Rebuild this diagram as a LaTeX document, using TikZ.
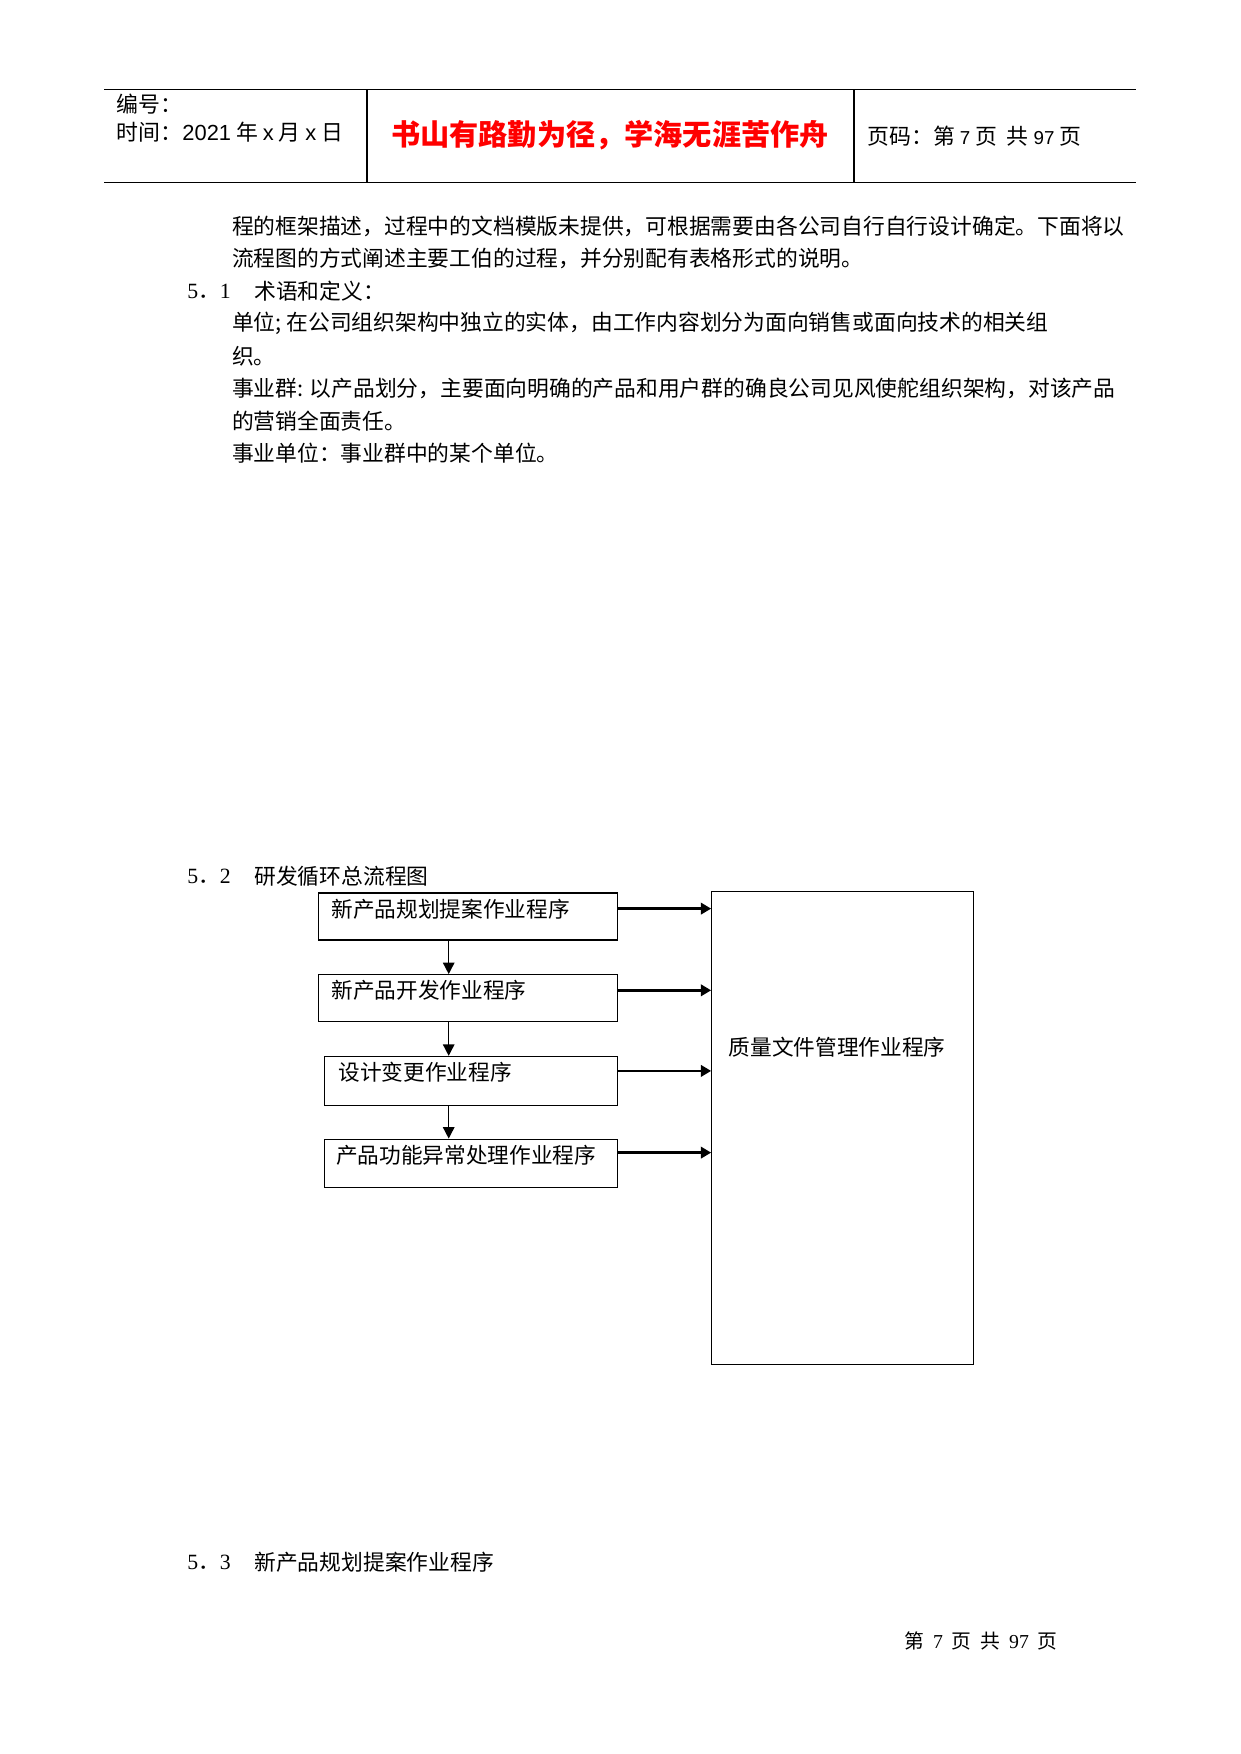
\documentclass[tikz,border=0pt]{standalone}
\usepackage{fontspec}
\setmainfont{Noto Sans CJK SC}
\newfontfamily\lsans{Liberation Sans}
\newfontfamily\lserif{Liberation Serif}
\usetikzlibrary{arrows.meta}
\begin{document}
\begin{tikzpicture}[x=0.48pt,y=-0.48pt,
  txt/.style={inner sep=0pt,anchor=west,font=\fontsize{10.45}{13}\selectfont},
  boxtxt/.style={inner sep=0pt,anchor=west,font=\fontsize{10.4}{12}\selectfont},
  hdr/.style={inner sep=0pt,anchor=west,font=\fontsize{10.5}{12}\selectfont},
  pbox/.style={draw,line width=0.5pt,inner sep=0pt},
  rarrow/.style={line width=1.3pt,-{Triangle[length=5pt,width=5.5pt]}},
  darrow/.style={line width=0.7pt,-{Triangle[length=5.5pt,width=5.5pt]}}]
\useasboundingbox (0,0) rectangle (1241,1754);
% header
\coordinate (hl) at (104,89.5);
\coordinate (hr) at (1136,182.4);
\draw[line width=0.5pt] (hl) -- (hl -| hr);
\draw[line width=0.5pt] (hl |- hr) -- (hr);
\draw[line width=0.5pt] (367,89.5) -- (367,182.4);
\draw[line width=0.5pt] (854,89.5) -- (854,182.4);
\node[hdr] (h1) at (116.4,104) {编号：};
\node[hdr] (h2) at (116.4,132) {时间：{\lsans 2021}\ 年\ {\lsans x}\ 月\ {\lsans x}\ 日};
\node[inner sep=0pt,text=red,font=\fontsize{14}{16}\selectfont\bfseries] (title) at (610,135.4) {书山有路勤为径，学海无涯苦作舟};
\node[hdr] (h3) at (867,136.5) {页码：第\ {\lsans\small 7}\ 页\ \ 共\ {\lsans\small 97}\ 页};
% body text
\node[txt] (p1) at (231.6,226) {程的框架描述，过程中的文档模版未提供，可根据需要由各公司自行自行设计确定。下面将以};
\node[txt] (p2) at (231.6,258.5) {流程图的方式阐述主要工伯的过程，并分别配有表格形式的说明。};
\node[txt] (s1n) at (186.9,291) {{\lserif 5}．{\lserif 1}};
\node[txt] (s1t) at (254,291) {术语和定义：};
\node[txt] (p3) at (231.6,323.4) {单位; 在公司组织架构中独立的实体，由工作内容划分为面向销售或面向技术的相关组};
\node[txt] (p4) at (231.6,355.8) {织。};
\node[txt] (p5) at (231.6,388.3) {事业群: 以产品划分，主要面向明确的产品和用户群的确良公司见风使舵组织架构，对该产品};
\node[txt] (p6) at (231.6,420.7) {的营销全面责任。};
\node[txt] (p7) at (231.6,453.2) {事业单位：事业群中的某个单位。};
\node[txt] (s2n) at (186.9,876.2) {{\lserif 5}．{\lserif 2}};
\node[txt] (s2t) at (254,876.2) {研发循环总流程图};
\node[txt] (s3n) at (186.9,1562.1) {{\lserif 5}．{\lserif 3}};
\node[txt] (s3t) at (254,1562.1) {新产品规划提案作业程序};
\node[inner sep=0pt,anchor=west,font=\fontsize{9.5}{11}\selectfont] (foot) at (904,1640.5) {第\ \ {\lserif 7}\ \ 页\ \ 共\ \ {\lserif 97}\ \ 页};
% flow chart boxes
\node[pbox,minimum width=143.42pt,minimum height=22.56pt] (b1) at (468.3,916.5) {};
\node[pbox,minimum width=143.42pt,minimum height=22.56pt] (b2) at (468.3,998.1) {};
\node[pbox,minimum width=140.74pt,minimum height=23.66pt] (b3) at (471.1,1081) {};
\node[pbox,minimum width=140.74pt,minimum height=23.14pt] (b4) at (471.1,1163.2) {};
\node[pbox,minimum width=125.66pt,minimum height=226.7pt] (big) at (842.6,1128) {};
\node[boxtxt] (t1) at (331.2,909.7) {新产品规划提案作业程序};
\node[boxtxt] (t2) at (331.2,990.3) {新产品开发作业程序};
\node[boxtxt] (t3) at (338,1072) {设计变更作业程序};
\node[boxtxt] (t4) at (335.7,1155) {产品功能异常处理作业程序};
\node[boxtxt] (tb) at (728.5,1047.4) {质量文件管理作业程序};
% connectors
\coordinate (a1) at (0,908.6);
\coordinate (a2) at (0,990.3);
\coordinate (a3) at (0,1070.9);
\coordinate (a4) at (0,1152.6);
\draw[rarrow] (b1.east |- a1) -- (big.west |- a1);
\draw[rarrow] (b2.east |- a2) -- (big.west |- a2);
\draw[rarrow] (b3.east |- a3) -- (big.west |- a3);
\draw[rarrow] (b4.east |- a4) -- (big.west |- a4);
\coordinate (dx) at (448.7,0);
\draw[darrow] (b1.south -| dx) -- (b2.north -| dx);
\draw[darrow] (b2.south -| dx) -- (b3.north -| dx);
\draw[darrow] (b3.south -| dx) -- (b4.north -| dx);
\end{tikzpicture}
\end{document}
